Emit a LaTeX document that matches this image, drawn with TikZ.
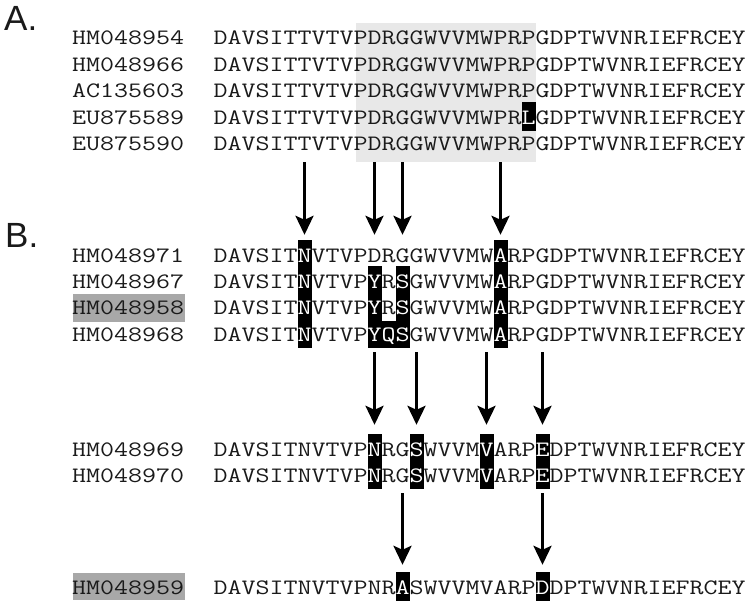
\documentclass[tikz,border=0pt]{standalone}
\usepackage{fontspec}
\usepackage{graphicx}
\usetikzlibrary{arrows.meta}
\newfontfamily\seqfont{Latin Modern Mono}
\newfontfamily\labfont{Liberation Sans}
\definecolor{lightbox}{HTML}{E8E8E8}
\definecolor{labhl}{HTML}{A8A8A8}
\definecolor{ink}{HTML}{1A1A1A}
\newlength{\seqcw}
\newcommand{\W}[1]{\textcolor{white}{#1}}
\newcommand{\sq}[1]{\scalebox{\seqscale}[1]{#1}}
\tikzset{
  seq/.style={anchor=base west, inner sep=0pt, text=ink, font=\seqfont\fontsize{22}{26}\selectfont},
  panel/.style={anchor=base west, inner sep=0pt, text=ink, font=\labfont\fontsize{35}{40}\selectfont},
  bbox/.style={fill=black, draw=none, inner sep=0pt, minimum width=14pt},
  arr/.style={line width=3pt, draw=black, -{Stealth[length=19pt,width=18pt,inset=4pt]}},
}
\begin{document}
\settowidth{\seqcw}{\seqfont\fontsize{22}{26}\selectfont M}
\pgfmathsetmacro{\seqscale}{14pt/\seqcw}
\begin{tikzpicture}[x=1pt,y=-1pt]
\useasboundingbox[fill=white] (0,0) rectangle (750,604);
% shaded region and label highlights
\node[fill=lightbox, inner sep=0pt, minimum width=179.5pt, minimum height=139pt] (gA) at (445.75,92.5) {};
\node[fill=labhl, inner sep=0pt, minimum width=112pt, minimum height=28pt] (h58) at (129,308) {};
\node[fill=labhl, inner sep=0pt, minimum width=112pt, minimum height=27pt] (h59) at (129,586.5) {};
% black boxes
\node[bbox, minimum height=29pt] (bAL) at (528.5,116.5) {};
\node[bbox, minimum height=108pt] (bBN) at (304.5,294) {};
\node[bbox, minimum height=108pt] (bBA) at (500.5,294) {};
\node[bbox, minimum height=81.7pt] (bBY) at (374.5,307.15) {};
\node[bbox, minimum height=81.7pt] (bBS) at (402.5,307.15) {};
\node[bbox, minimum height=27pt] (bBQ) at (388.5,334.5) {};
\node[bbox, minimum height=55.3pt] (bCN) at (374.5,461.65) {};
\node[bbox, minimum height=55.3pt] (bCS) at (416.5,461.65) {};
\node[bbox, minimum height=55.3pt] (bCV) at (486.5,461.65) {};
\node[bbox, minimum height=55.3pt] (bCE) at (542.5,461.65) {};
\node[bbox, minimum height=29pt] (bDA) at (402.5,586.5) {};
\node[bbox, minimum height=29pt] (bDD) at (542.5,586.5) {};
% panel letters
\node[panel] (pA) at (4,31) {A.};
\node[panel] (pB) at (5,248) {B.};
% panel A
\node[seq] (lA1) at (72,45) {\sq{HM048954}};
\node[seq] (lA2) at (72,71.4) {\sq{HM048966}};
\node[seq] (lA3) at (72,97.8) {\sq{AC135603}};
\node[seq] (lA4) at (72,124.2) {\sq{EU875589}};
\node[seq] (lA5) at (72,150.6) {\sq{EU875590}};
\node[seq] (sA1) at (213.5,45) {\sq{DAVSITTVTVPDRGGWVVMWPRPGDPTWVNRIEFRCEY}};
\node[seq] (sA2) at (213.5,71.4) {\sq{DAVSITTVTVPDRGGWVVMWPRPGDPTWVNRIEFRCEY}};
\node[seq] (sA3) at (213.5,97.8) {\sq{DAVSITTVTVPDRGGWVVMWPRPGDPTWVNRIEFRCEY}};
\node[seq] (sA4) at (213.5,124.2) {\sq{DAVSITTVTVPDRGGWVVMWPR\W{L}GDPTWVNRIEFRCEY}};
\node[seq] (sA5) at (213.5,150.6) {\sq{DAVSITTVTVPDRGGWVVMWPRPGDPTWVNRIEFRCEY}};
% panel B
\node[seq] (lB1) at (72,262) {\sq{HM048971}};
\node[seq] (lB2) at (72,288.3) {\sq{HM048967}};
\node[seq] (lB3) at (72,314.6) {\sq{HM048958}};
\node[seq] (lB4) at (72,341) {\sq{HM048968}};
\node[seq] (sB1) at (213.5,262) {\sq{DAVSIT\W{N}VTVPDRGGWVVMW\W{A}RPGDPTWVNRIEFRCEY}};
\node[seq] (sB2) at (213.5,288.3) {\sq{DAVSIT\W{N}VTVP\W{Y}R\W{S}GWVVMW\W{A}RPGDPTWVNRIEFRCEY}};
\node[seq] (sB3) at (213.5,314.6) {\sq{DAVSIT\W{N}VTVP\W{Y}R\W{S}GWVVMW\W{A}RPGDPTWVNRIEFRCEY}};
\node[seq] (sB4) at (213.5,341) {\sq{DAVSIT\W{N}VTVP\W{YQS}GWVVMW\W{A}RPGDPTWVNRIEFRCEY}};
% panel C
\node[seq] (lC1) at (72,456) {\sq{HM048969}};
\node[seq] (lC2) at (72,482.3) {\sq{HM048970}};
\node[seq] (sC1) at (213.5,456) {\sq{DAVSITNVTVP\W{N}RG\W{S}WVVM\W{V}ARP\W{E}DPTWVNRIEFRCEY}};
\node[seq] (sC2) at (213.5,482.3) {\sq{DAVSITNVTVP\W{N}RG\W{S}WVVM\W{V}ARP\W{E}DPTWVNRIEFRCEY}};
% panel D
\node[seq] (lD1) at (72,594) {\sq{HM048959}};
\node[seq] (sD1) at (213.5,594) {\sq{DAVSITNVTVPNR\W{A}SWVVMVARP\W{D}DPTWVNRIEFRCEY}};
% arrows
\coordinate (rowBbot) at (0,352);
\coordinate (rowCbot) at (0,493);
\draw[arr, shorten >=5pt] (bBN.north |- gA.south) -- (bBN.north);
\draw[arr, shorten >=5pt] (bBY.north |- gA.south) -- (bBY.north |- bBN.north);
\draw[arr, shorten >=5pt] (bBS.north |- gA.south) -- (bBS.north |- bBN.north);
\draw[arr, shorten >=5pt] (bBA.north |- gA.south) -- (bBA.north);
\draw[arr, shorten >=9pt] (bCN.north |- rowBbot) -- (bCN.north);
\draw[arr, shorten >=9pt] (bCS.north |- rowBbot) -- (bCS.north);
\draw[arr, shorten >=9pt] (bCV.north |- rowBbot) -- (bCV.north);
\draw[arr, shorten >=9pt] (bCE.north |- rowBbot) -- (bCE.north);
\draw[arr, shorten >=7pt] (bDA.north |- rowCbot) -- (bDA.north);
\draw[arr, shorten >=7pt] (bDD.north |- rowCbot) -- (bDD.north);
\end{tikzpicture}
\end{document}
